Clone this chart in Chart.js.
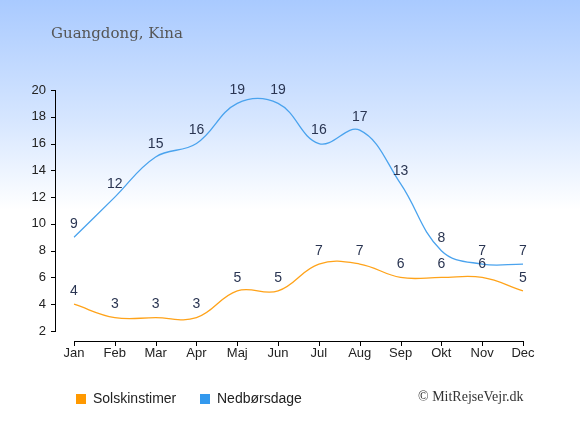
<!DOCTYPE html>
<html lang="da">
<head>
  <meta charset="UTF-8" />
  <title>Guangdong, Kina</title>
  <style>
    body { margin: 0; padding: 0; background: #fff; }
    #wrap {
      position: relative;
      width: 580px;
      height: 435px;
      overflow: hidden;
      background: linear-gradient(to bottom, #a9caff 0px, #d6e6ff 120px, #ffffff 210px, #ffffff 435px);
    }
    canvas { position: absolute; left: 0; top: 0; }
    .title {
      position: absolute; left: 51px; top: 24px;
      font-family: "DejaVu Serif", Georgia, serif;
      font-size: 15px; color: #555;
    }
    .legend {
      position: absolute; top: 390px;
      font-family: "Liberation Sans", Arial, sans-serif;
      font-size: 14px; color: #222;
    }
    .legend span.box {
      display: inline-block; width: 10px; height: 10px;
      margin-right: 7px; vertical-align: -1px;
    }
    .copy {
      position: absolute; left: 418px; top: 389px;
      font-family: "Liberation Serif", "Times New Roman", serif;
      font-size: 14px; color: #333;
    }
  </style>
</head>
<body>
  <div id="wrap">
    <canvas id="chart" width="580" height="435"></canvas>
    <div class="title">Guangdong, Kina</div>
    <div class="legend" style="left:76px"><span class="box" style="background:#ff9900"></span>Solskinstimer</div>
    <div class="legend" style="left:200px"><span class="box" style="background:#3399ee"></span>Nedbørsdage</div>
    <div class="copy">© MitRejseVejr.dk</div>
  </div>

  <script src="https://cdn.jsdelivr.net/npm/chart.js"></script>
  <script>
    const months = ["Jan", "Feb", "Mar", "Apr", "Maj", "Jun", "Jul", "Aug", "Sep", "Okt", "Nov", "Dec"];
    const sunHours = [4, 3, 3, 3, 5, 5, 7, 7, 6, 6, 6, 5];
    const rainDays = [9, 12, 15, 16, 19, 19, 16, 17, 13, 8, 7, 7];
    const yTicks = [2, 4, 6, 8, 10, 12, 14, 16, 18, 20];

    // værdier over punkterne + akser lidt væk fra plotområdet
    const extras = {
      id: "extras",
      afterDatasetsDraw(chart) {
        const ctx = chart.ctx;
        ctx.save();
        ctx.font = "14px 'Liberation Sans', Arial, sans-serif";
        ctx.fillStyle = "#2a3552";
        ctx.textAlign = "center";
        ctx.textBaseline = "middle";
        chart.data.datasets.forEach((ds, i) => {
          chart.getDatasetMeta(i).data.forEach((pt, j) => {
            ctx.fillText(ds.data[j], pt.x, pt.y - 13);
          });
        });
        ctx.restore();
      },
      afterDraw(chart) {
        const ctx = chart.ctx;
        const x = chart.scales.x, y = chart.scales.y;
        const ax = 55, ay = 341;
        ctx.save();
        ctx.strokeStyle = "#000";
        ctx.lineWidth = 1;
        ctx.beginPath();
        ctx.moveTo(ax + 0.5, y.getPixelForValue(20));
        ctx.lineTo(ax + 0.5, y.getPixelForValue(2));
        yTicks.forEach(v => {
          const py = Math.round(y.getPixelForValue(v)) + 0.5;
          ctx.moveTo(ax - 4, py);
          ctx.lineTo(ax + 1, py);
        });
        ctx.moveTo(x.getPixelForValue(0), ay + 0.5);
        ctx.lineTo(x.getPixelForValue(11), ay + 0.5);
        months.forEach((m, i) => {
          const px = Math.round(x.getPixelForValue(i)) + 0.5;
          ctx.moveTo(px, ay);
          ctx.lineTo(px, ay + 5);
        });
        ctx.stroke();
        ctx.restore();
      }
    };

    new Chart(document.getElementById("chart"), {
      type: "line",
      data: {
        labels: months,
        datasets: [
          { label: "Solskinstimer", data: sunHours, borderColor: "#ffa31a", borderWidth: 1.3, tension: 0.4, pointRadius: 0, fill: false },
          { label: "Nedbørsdage", data: rainDays, borderColor: "#4aa3ee", borderWidth: 1.3, tension: 0.4, pointRadius: 0, fill: false }
        ]
      },
      options: {
        responsive: false,
        animation: false,
        events: [],
        layout: { padding: { top: 90, right: 57, left: 0, bottom: 0 } },
        plugins: { legend: { display: false }, tooltip: { enabled: false } },
        scales: {
          x: {
            offset: false,
            grid: { display: false, drawTicks: false },
            border: { display: false },
            ticks: { padding: 15, color: "#222", font: { size: 13, family: "'Liberation Sans', Arial, sans-serif" } },
            afterFit: s => { s.height = 104; }
          },
          y: {
            min: 2, max: 20,
            afterBuildTicks: s => { s.ticks = yTicks.map(v => ({ value: v })); },
            grid: { display: false, drawTicks: false },
            border: { display: false },
            ticks: { padding: 28, color: "#222", font: { size: 13, family: "'Liberation Sans', Arial, sans-serif" } },
            afterFit: s => { s.width = 74; }
          }
        }
      },
      plugins: [extras]
    });
  </script>
</body>
</html>
